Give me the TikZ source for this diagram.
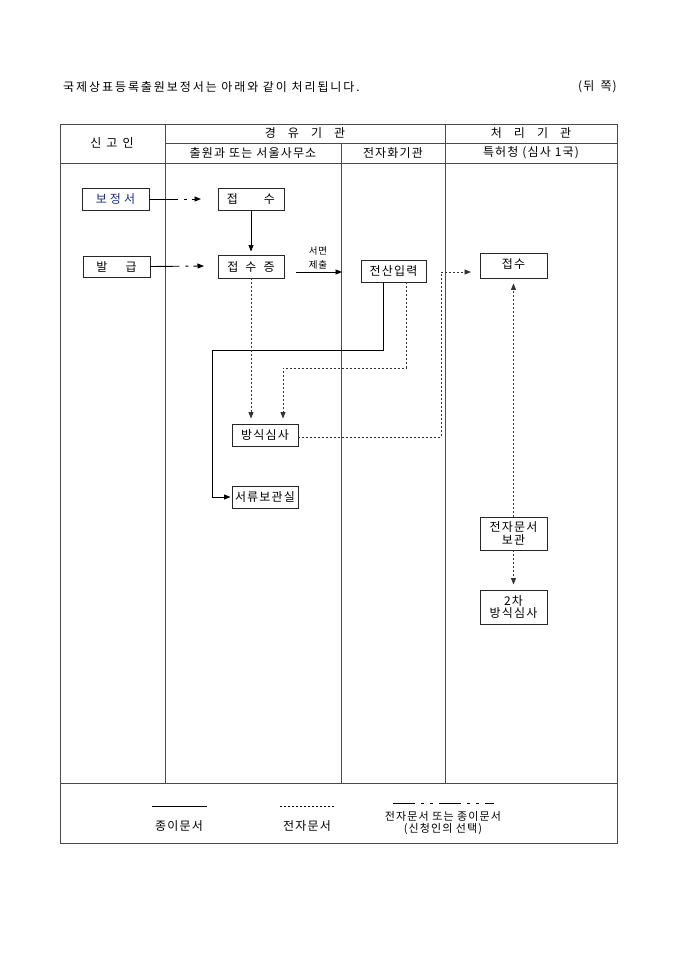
\documentclass[tikz,border=0pt]{standalone}
\usepackage{fontspec}
\setmainfont{Noto Sans CJK KR}[LetterSpace=10]
\usetikzlibrary{arrows.meta}
\definecolor{tbl}{HTML}{4A4A4A}
\definecolor{bluetxt}{HTML}{1F2A8A}
\begin{document}
\begin{tikzpicture}[x=1pt,y=-1pt,
  every node/.style={font=\fontsize{12}{13}\selectfont, inner sep=0pt},
  tline/.style={draw=tbl, line width=0.85pt},
  box/.style={draw=black!85, line width=0.9pt, minimum width=66pt, minimum height=22pt, align=center},
  tip/.style={-{Triangle[length=6.5pt,width=5pt]}},
  paper/.style={draw=black, line width=0.9pt, tip},
  elec/.style={draw=black!80, line width=0.9pt, dash pattern=on 2pt off 2pt, tip},
  mix/.style={draw=black, line width=0.9pt, dash pattern=on 29pt off 6pt on 3pt off 5pt, tip}
]
\useasboundingbox (0,0) rectangle (680,962);
\fill[white] (0,0) rectangle (680,962);

% title
\node[anchor=west, font=\fontsize{12}{13}\selectfont\addfontfeatures{LetterSpace=16}] (title) at (63,87) {국제상표등록출원보정서는 아래와 같이 처리됩니다.};
\node[anchor=east] (side) at (617,87) {(뒤\hspace*{6pt}쪽)};

% table
\draw[tline] (60,124) rectangle (617,843);
\draw[tline] (165,143) -- (617,143);
\draw[tline] (60,163) -- (617,163);
\draw[tline] (60,783) -- (617,783);
\draw[tline] (165,124) -- (165,783);
\draw[tline] (341,143) -- (341,783);
\draw[tline] (445,124) -- (445,783);

\node (h1) at (112,143) {신\hspace*{5pt}고\hspace*{5pt}인};
\node (h2) at (305,133) {경\hspace*{12pt}유\hspace*{12pt}기\hspace*{12pt}관};
\node (h3) at (531,133) {처\hspace*{12pt}리\hspace*{12pt}기\hspace*{12pt}관};
\node (h4) at (253,153) {출원과 또는 서울사무소};
\node (h5) at (393,153) {전자화기관};
\node (h6) at (531,153) {특허청 (심사 1국)};

% boxes
\node[box, minimum width=67pt, text=bluetxt] (bojeong) at (115.5,199) {보\hspace*{3pt}정\hspace*{3pt}서};
\node[box, minimum width=67pt, minimum height=21pt] (balgeup) at (116.5,266.5) {발\hspace*{18pt}급};
\node[box] (jeopsu1) at (251,199) {접\hspace*{26pt}수};
\node[box, minimum height=23pt] (jeopsujeung) at (251,266.5) {접\hspace*{7pt}수\hspace*{7pt}증};
\node[box, minimum width=65pt] (jeonsan) at (393.5,271) {전산입력};
\node[box, minimum width=67pt, minimum height=25pt] (jeopsu2) at (513.5,265.5) {\raisebox{3pt}{접수}};
\node[box] (bangsik) at (265,435) {방식심사};
\node[box] (seoryu) at (265,497) {서류보관실};
\node[box, minimum width=67pt, minimum height=33pt, font=\fontsize{12}{12.5}\selectfont] (jeonja) at (513.5,533.5) {전자문서\\보관};
\node[box, minimum width=67pt, minimum height=34pt, font=\fontsize{12}{12.5}\selectfont] (second) at (513.5,607) {2차\\방식심사};

% connectors
\coordinate (t1) at (201,199);
\draw[mix] (bojeong.east) -- (t1);
\coordinate (t2) at (204,266);
\draw[mix] (balgeup.east) -- (t2);
\draw[paper, shorten >=3pt] (jeopsu1.south) -- (jeopsujeung.north);

\coordinate (t4) at (342,272);
\draw[paper, shorten <=12pt] (jeopsujeung.east |- t4) -- (t4);
\node[font=\fontsize{9.5}{14}\selectfont, align=center] (seomyeon) at (318,258) {서면\\제출};

\coordinate (c5) at (441,437);
\coordinate (t5) at (471,272);
\draw[elec] (bangsik.east |- c5) -- (c5) -- (c5 |- t5) -- (t5);

\coordinate (c6a) at (383,350);
\coordinate (c6b) at (212,350);
\draw[paper, shorten >=1pt] (jeonsan.south -| c6a) -- (c6a) -- (c6b) |- (seoryu.west);

\coordinate (c7a) at (406,368);
\coordinate (c7b) at (283,368);
\draw[elec, shorten >=5pt] (jeonsan.south -| c7a) -- (c7a) -- (c7b) -- (c7b |- bangsik.north);

\draw[elec, shorten >=5pt] (jeopsujeung.south) -- (jeopsujeung.south |- bangsik.north);
\draw[elec, shorten >=5pt] (jeonja.north) -- (jeopsu2.south);
\draw[elec, shorten >=5pt] (jeonja.south) -- (second.north);

% legend
\coordinate (l1a) at (152,806);
\coordinate (l1b) at (207,806);
\draw[line width=0.9pt] (l1a) -- (l1b);
\node (leg1) at (179,826) {종이문서};
\coordinate (l2a) at (280,806);
\coordinate (l2b) at (335,806);
\draw[line width=0.9pt, dash pattern=on 2pt off 2pt] (l2a) -- (l2b);
\node (leg2) at (307,826) {전자문서};
\coordinate (l3a) at (393,803);
\coordinate (l3b) at (494,803);
\draw[line width=0.9pt, dash pattern=on 22pt off 6pt on 3pt off 6pt on 3pt off 6pt] (l3a) -- (l3b);
\node[align=center, font=\fontsize{11}{12.5}\selectfont] (leg3) at (443,823) {전자문서 또는 종이문서\\(신청인의 선택)};
\end{tikzpicture}
\end{document}
